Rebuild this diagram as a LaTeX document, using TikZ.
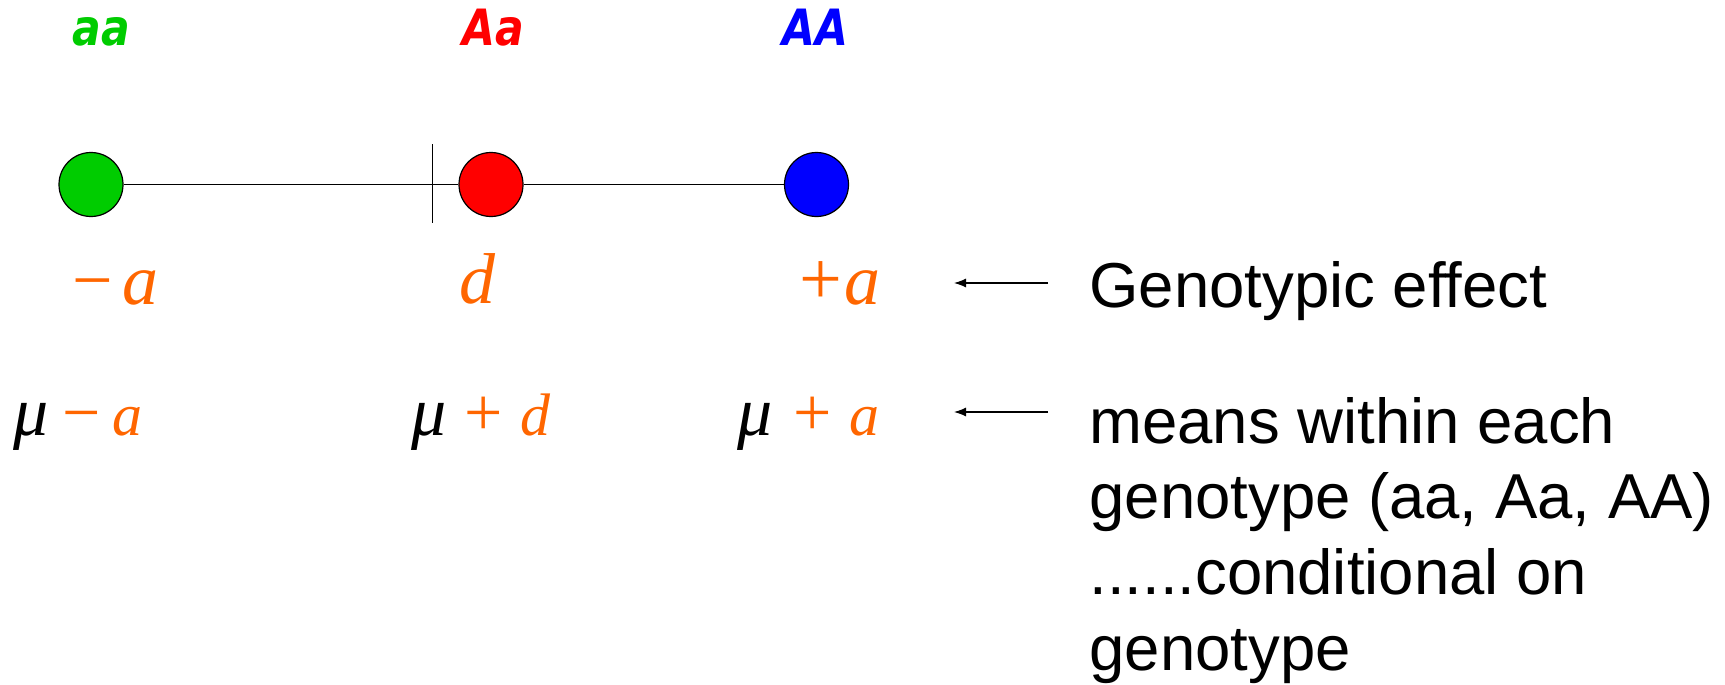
\documentclass[tikz,border=0pt]{standalone}
\usepackage{fontspec}
\usetikzlibrary{arrows.meta}
\newfontfamily\arialf{Liberation Sans}
\newfontfamily\tnrf{Liberation Serif}
\newfontfamily\genof{DejaVu Sans}[FakeStretch=0.85]
\definecolor{gcol}{RGB}{0,204,0}
\definecolor{ocol}{RGB}{255,102,0}
\newcommand{\bigop}[1]{{\fontsize{38}{44}\selectfont #1}}
\newcommand{\smop}[1]{{\fontsize{34}{40}\selectfont #1}}
\newcommand{\much}{{\color{black}\fontsize{35}{40}\selectfont\itshape μ}}
\begin{document}
\begin{tikzpicture}[x=0.5pt,y=-0.5pt,
  geno/.style={circle,draw=black,line width=0.6pt,minimum size=32pt,inner sep=0pt},
  glab/.style={anchor=base,inner sep=0pt,font=\genof\bfseries\itshape\fontsize{25}{30}\selectfont},
  effbig/.style={anchor=base west,inner sep=0pt,font=\tnrf\fontsize{36}{42}\selectfont,text=ocol},
  effsm/.style={anchor=base west,inner sep=0pt,font=\tnrf\fontsize{30}{36}\selectfont,text=ocol},
  desc/.style={anchor=base west,inner sep=0pt,font=\arialf\fontsize{31.75}{37.8}\selectfont,align=left},
  pointer/.style={-{Latex[length=6pt,width=4.5pt]},line width=0.6pt},
  axis/.style={line width=0.75pt},
  tick/.style={line width=0.5pt},
]
\useasboundingbox (0,0) rectangle (1725,685);
% genotype circles
\node[geno,fill=gcol] (g) at (91,184.5) {};
\node[geno,fill=red] (r) at (491,184.5) {};
\node[geno,fill=blue] (b) at (816.5,184.5) {};
\coordinate (vt) at (432,144);
\coordinate (vb) at (432,223);
\draw[axis] (g) -- (r);
\draw[axis] (r) -- (b);
\draw[tick] (vt) -- (vb);
% genotype labels
\node[glab,text=gcol] (laa) at (101,45) {aa};
\node[glab,text=red] (lAa) at (493,45) {Aa};
\node[glab,text=blue] (lAA) at (815.5,45) {AA};
% genotypic effects
\node[effbig] (ema) at (72,304) {\rlap{−}\hspace{25.15pt}\textit{a}};
\node[effbig] (ed) at (459,303) {\textit{d}};
\node[effbig] (epa) at (799.5,304) {\rlap{\bigop{+}}\hspace{22.25pt}\textit{a}};
% means
\node[effsm] (mma) at (13,435) {\rlap{\much}\hspace{24.5pt}\rlap{\smop{−}}\hspace{25.15pt}\textit{a}};
\node[effsm] (mpd) at (411,435) {\rlap{\much}\hspace{26.5pt}\rlap{\smop{+}}\hspace{28pt}\textit{d}};
\node[effsm] (mpa) at (737.5,435) {\rlap{\much}\hspace{27.75pt}\rlap{\smop{+}}\hspace{27.8pt}\textit{a}};
% descriptions
\node[desc] (ge) at (1089,307) {Genotypic effect};
\node[desc] (mw) at (1089,670) {means within each\\genotype (aa, Aa, AA)\\......conditional on\\genotype};
% pointers
\coordinate (p1s) at (1048,283);
\coordinate (p1e) at (954,283);
\coordinate (p2s) at (1048,412);
\coordinate (p2e) at (954,412);
\draw[pointer] (p1s) -- (p1e);
\draw[pointer] (p2s) -- (p2e);
\end{tikzpicture}
\end{document}
